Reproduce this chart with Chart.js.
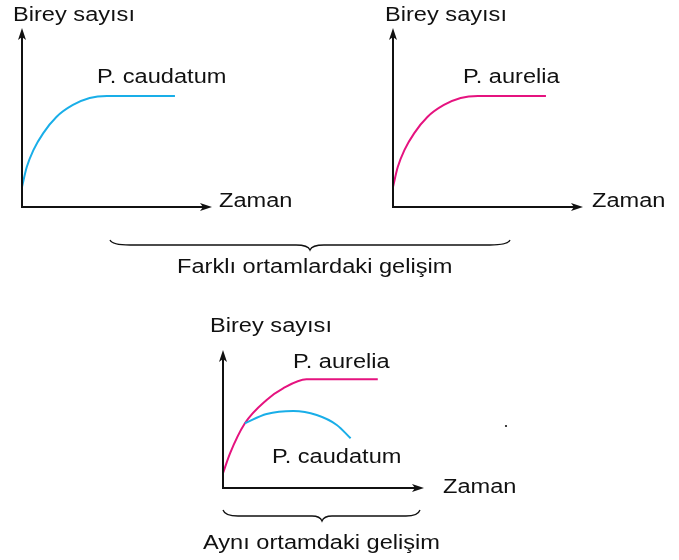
<!DOCTYPE html>
<html>
<head>
<meta charset="utf-8">
<script src="https://cdn.jsdelivr.net/npm/chart.js@4/dist/chart.umd.min.js"></script>
<style>
    body { margin: 0; width: 679px; height: 560px; position: relative; overflow: hidden; background: #fff;
           font-family: 'Liberation Sans', Arial, sans-serif; }
    canvas { position: absolute; }
    .lbl { position: absolute; font-size: 20px; line-height: 20px; color: #111; white-space: nowrap;
           transform: scaleX(1.18); transform-origin: 0 0; }
    svg { position: absolute; left: 0; top: 0; }
</style>
</head>
<body>

<canvas id="chart-caudatum" width="214" height="203" style="left:10px; top:16px"></canvas>
<canvas id="chart-aurelia" width="214" height="203" style="left:381px; top:16px"></canvas>
<canvas id="chart-mixed" width="225" height="162" style="left:211px; top:338px"></canvas>

<!-- braces + stray dot -->
<svg width="679" height="560">
    <path d="M110,240 Q112,245 130,245 L296,245 Q308,245 310,250 Q312,245 324,245 L490,245 Q508,245 510,240"
          fill="none" stroke="#111" stroke-width="1.3"/>
    <path d="M223,510 Q225,516 238,516 L312,516 Q320,516 322,521 Q324,516 332,516 L406,516 Q418,516 420,510"
          fill="none" stroke="#111" stroke-width="1.3"/>
    <circle cx="506" cy="426" r="1.1" fill="#111"/>
</svg>

<div class="lbl" style="left:13px; top:4px">Birey sayısı</div>
<div class="lbl" style="left:97px; top:66px">P. caudatum</div>
<div class="lbl" style="left:219px; top:190px">Zaman</div>

<div class="lbl" style="left:385px; top:4px">Birey sayısı</div>
<div class="lbl" style="left:463px; top:66px">P. aurelia</div>
<div class="lbl" style="left:592px; top:190px">Zaman</div>

<div class="lbl" style="left:177px; top:256px">Farklı ortamlardaki gelişim</div>

<div class="lbl" style="left:210px; top:315px">Birey sayısı</div>
<div class="lbl" style="left:293px; top:351px">P. aurelia</div>
<div class="lbl" style="left:272px; top:446px">P. caudatum</div>
<div class="lbl" style="left:443px; top:476px">Zaman</div>

<div class="lbl" style="left:203px; top:532px">Aynı ortamdaki gelişim</div>

<script>
// --- Data (arbitrary units 0..10) ---
// separate cultures (top charts share the same growth curve)
const aloneTime = [0, 0.25, 0.6, 1.12, 1.81, 2.68, 3.56, 4.47, 8.05];
const caudatumAlone = [1.12, 2.23, 3.18, 4.13, 5.03, 5.70, 6.09, 6.20, 6.20];
const aureliaAlone = [1.12, 2.23, 3.18, 4.13, 5.03, 5.70, 6.09, 6.20, 6.20];

// same culture
const mixedAureliaTime = [0, 0.35, 1.09, 2.17, 2.99, 4.15, 7.70];
const mixedAurelia = [1.07, 2.51, 4.69, 6.38, 7.22, 7.88, 7.88];
const mixedCaudatumTime = [1.09, 2.17, 3.50, 4.66, 5.66, 6.35];
const mixedCaudatum = [4.69, 5.36, 5.58, 5.29, 4.57, 3.60];

const CYAN = '#19aee8';
const MAGENTA = '#e5137f';

const toPoints = (xs, ys) => xs.map((x, i) => ({ x, y: ys[i] }));

// draws the two arrow axes along the chart area's left and bottom edges
const arrowAxes = {
    id: 'arrowAxes',
    afterDatasetsDraw(chart) {
        const { ctx, chartArea: a } = chart;
        const head = 12, half = 4, notch = 9;
        ctx.save();
        ctx.strokeStyle = '#111';
        ctx.fillStyle = '#111';
        ctx.lineWidth = 2;
        ctx.beginPath();
        ctx.moveTo(a.left, a.top + notch);
        ctx.lineTo(a.left, a.bottom);
        ctx.lineTo(a.right - notch, a.bottom);
        ctx.stroke();
        // y arrow
        ctx.beginPath();
        ctx.moveTo(a.left, a.top);
        ctx.lineTo(a.left + half, a.top + head);
        ctx.lineTo(a.left, a.top + notch);
        ctx.lineTo(a.left - half, a.top + head);
        ctx.closePath();
        ctx.fill();
        // x arrow
        ctx.beginPath();
        ctx.moveTo(a.right, a.bottom);
        ctx.lineTo(a.right - head, a.bottom - half);
        ctx.lineTo(a.right - notch, a.bottom);
        ctx.lineTo(a.right - head, a.bottom + half);
        ctx.closePath();
        ctx.fill();
        ctx.restore();
    }
};

function curve(points, color) {
    return {
        data: points,
        borderColor: color,
        borderWidth: 2,
        pointRadius: 0,
        fill: false,
        clip: false,
        cubicInterpolationMode: 'monotone',
    };
}

function makeChart(id, datasets) {
    return new Chart(document.getElementById(id), {
        type: 'line',
        data: { datasets },
        options: {
            responsive: false,
            animation: false,
            layout: { padding: 12 },
            plugins: { legend: { display: false }, tooltip: { enabled: false } },
            scales: {
                x: { type: 'linear', min: 0, max: 10, display: false },
                y: { type: 'linear', min: 0, max: 10, display: false },
            }
        },
        plugins: [arrowAxes]
    });
}

makeChart('chart-caudatum', [curve(toPoints(aloneTime, caudatumAlone), CYAN)]);
makeChart('chart-aurelia', [curve(toPoints(aloneTime, aureliaAlone), MAGENTA)]);
makeChart('chart-mixed', [
    curve(toPoints(mixedCaudatumTime, mixedCaudatum), CYAN),
    curve(toPoints(mixedAureliaTime, mixedAurelia), MAGENTA),
]);
</script>
</body>
</html>
